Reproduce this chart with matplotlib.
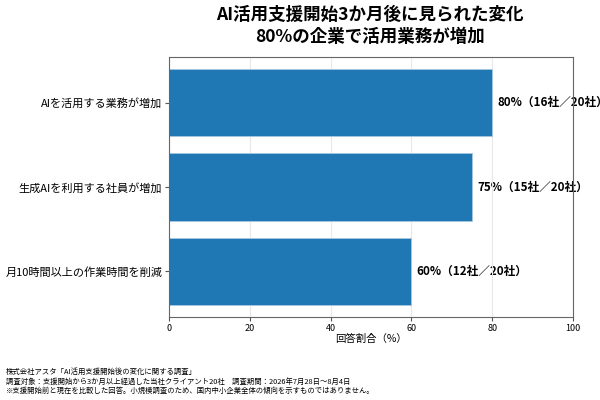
import matplotlib
matplotlib.use("Agg")
import matplotlib.pyplot as plt

plt.rcParams['font.family'] = ['Noto Sans CJK JP', 'DejaVu Sans']

categories = ['AIを活用する業務が増加', '生成AIを利用する社員が増加', '月10時間以上の作業時間を削減']
values = [80, 75, 60]
counts = [16, 15, 12]
total = 20

fig = plt.figure(figsize=(6, 4), dpi=100)
ax = fig.add_axes([0.282, 0.2075, 0.673, 0.65])

bars = ax.barh(categories, values, height=0.8, color='#1f77b4', edgecolor='#a9c7e0', linewidth=0.6, zorder=2)
ax.invert_yaxis()
ax.set_xlim(0, 100)
ax.grid(axis='x', color='#e8e8e8', linewidth=0.8, zorder=0)

for b, v, c in zip(bars, values, counts):
    ax.text(v + 1.2, b.get_y() + b.get_height() / 2, f'{v}%（{c}社／{total}社）',
            va='center', ha='left', fontsize=8.4, fontweight='bold', zorder=1)

ax.set_xlabel('回答割合（%）', fontsize=7.5, labelpad=1)
ax.tick_params(axis='x', labelsize=6.5, length=3, pad=2, color='#555555')
ax.tick_params(axis='y', labelsize=8, length=3, pad=2, color='#555555')
for s in ax.spines.values():
    s.set_color('#666666')

fig.suptitle('AI活用支援開始3か月後に見られた変化\n80%の企業で活用業務が増加',
             fontsize=12.6, fontweight='bold', y=0.985, x=0.617, linespacing=1.3)

note = ('株式会社アスタ「AI活用支援開始後の変化に関する調査」\n'
        '調査対象：支援開始から3か月以上経過した当社クライアント20社　調査期間：2026年7月28日〜8月4日\n'
        '※支援開始前と現在を比較した回答。小規模調査のため、国内中小企業全体の傾向を示すものではありません。')
fig.text(0.01, 0.012, note, fontsize=5.3, ha='left', va='bottom', linespacing=1.25)

fig.savefig('out.png', dpi=100)
